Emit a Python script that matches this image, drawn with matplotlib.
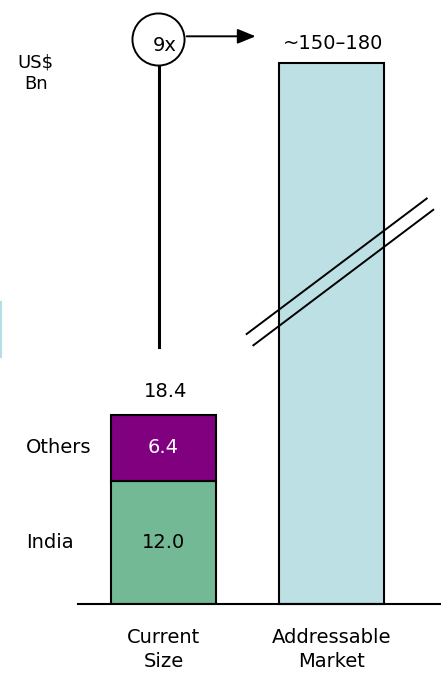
import matplotlib
matplotlib.use("Agg")
import matplotlib.pyplot as plt
from matplotlib.lines import Line2D

# ---- data ----
categories = ["Current\nSize", "Addressable\nMarket"]
segments = ["India", "Others"]
india = [12.0]
others = [6.4]
total_current = 18.4
addressable_label = "~150\u2013180"
multiple_label = "9x"
unit_label = "US$\nBn"
# truncated (broken-axis) display height for the addressable bar
addressable_display = 52.7

GREEN = "#74b995"
PURPLE = "#800080"
BLUE = "#bce0e3"
FS = 14

W, H = 441, 675
fig = plt.figure(figsize=(W / 100, H / 100), dpi=100)
ax = fig.add_axes([78 / W, (H - 604) / H, 363 / W, 541 / H])
ax.set_xlim(-0.509, 1.652)
ax.set_ylim(0, addressable_display)

bw = 0.625
ax.bar([0], india, width=bw, color=GREEN, edgecolor="black", linewidth=1.5, zorder=2)
ax.bar([0], others, bottom=india, width=bw, color=PURPLE, edgecolor="black", linewidth=1.5, zorder=2)
ax.bar([1], [addressable_display], width=bw, color=BLUE, edgecolor="black", linewidth=1.5,
       zorder=2, clip_on=False)

for s in ["left", "right", "top"]:
    ax.spines[s].set_visible(False)
ax.spines["bottom"].set_linewidth(1.5)
ax.set_yticks([])
ax.set_xticks([0, 1])
ax.set_xticklabels(categories, fontsize=FS, linespacing=1.35)
ax.tick_params(axis="x", length=0, pad=17)

# value labels
ax.text(0, india[0] / 2, f"{india[0]:.1f}", ha="center", va="center", fontsize=FS, color="black")
ax.text(0, india[0] + others[0] / 2, f"{others[0]:.1f}", ha="center", va="center", fontsize=FS, color="white")
ax.text(0.01, total_current + 2.3, f"{total_current:.1f}", ha="center", va="center", fontsize=FS)
ax.text(-0.818, india[0] / 2, segments[0], ha="left", va="center", fontsize=FS)
ax.text(-0.818, india[0] + others[0] / 2, segments[1], ha="left", va="center", fontsize=FS)

# unit label
ax.text(-0.76, 51.7, unit_label, ha="center", va="center", fontsize=FS - 1,
        linespacing=1.2, clip_on=False)

# growth connector: vertical line, circle, arrow
cx, cy = -0.034, 55.0
ax.plot([-0.027, -0.027], [25.0, cy - 2.3], color="black", lw=2.2, clip_on=False, zorder=3)
ax.plot([cx], [cy], marker="o", markersize=37.5, markerfacecolor="white",
        markeredgecolor="black", markeredgewidth=1.4, clip_on=False, zorder=4)
ax.text(cx + 0.04, cy - 0.55, multiple_label, ha="center", va="center", fontsize=FS, zorder=5,
        clip_on=False)
ax.annotate("", xy=(0.565, 55.3), xytext=(0.122, 55.3),
            arrowprops=dict(arrowstyle="-|>,head_length=1.1,head_width=0.45", color="black", lw=1.4),
            annotation_clip=False)
ax.text(1.01, 54.6, addressable_label, ha="center", va="center", fontsize=FS, clip_on=False)

# axis-break lines
ax.plot([0.495, 1.567], [26.3, 39.5], color="black", lw=1.4, clip_on=False, zorder=3)
ax.plot([0.535, 1.606], [25.2, 38.4], color="black", lw=1.4, clip_on=False, zorder=3)

# faint decorative arc at the left edge
fig.add_artist(Line2D([0.8 / W, 0.8 / W], [(H - 302) / H, (H - 357) / H],
                      color="#b5dfe4", lw=1.5, transform=fig.transFigure))

fig.savefig("out.png", dpi=100)
